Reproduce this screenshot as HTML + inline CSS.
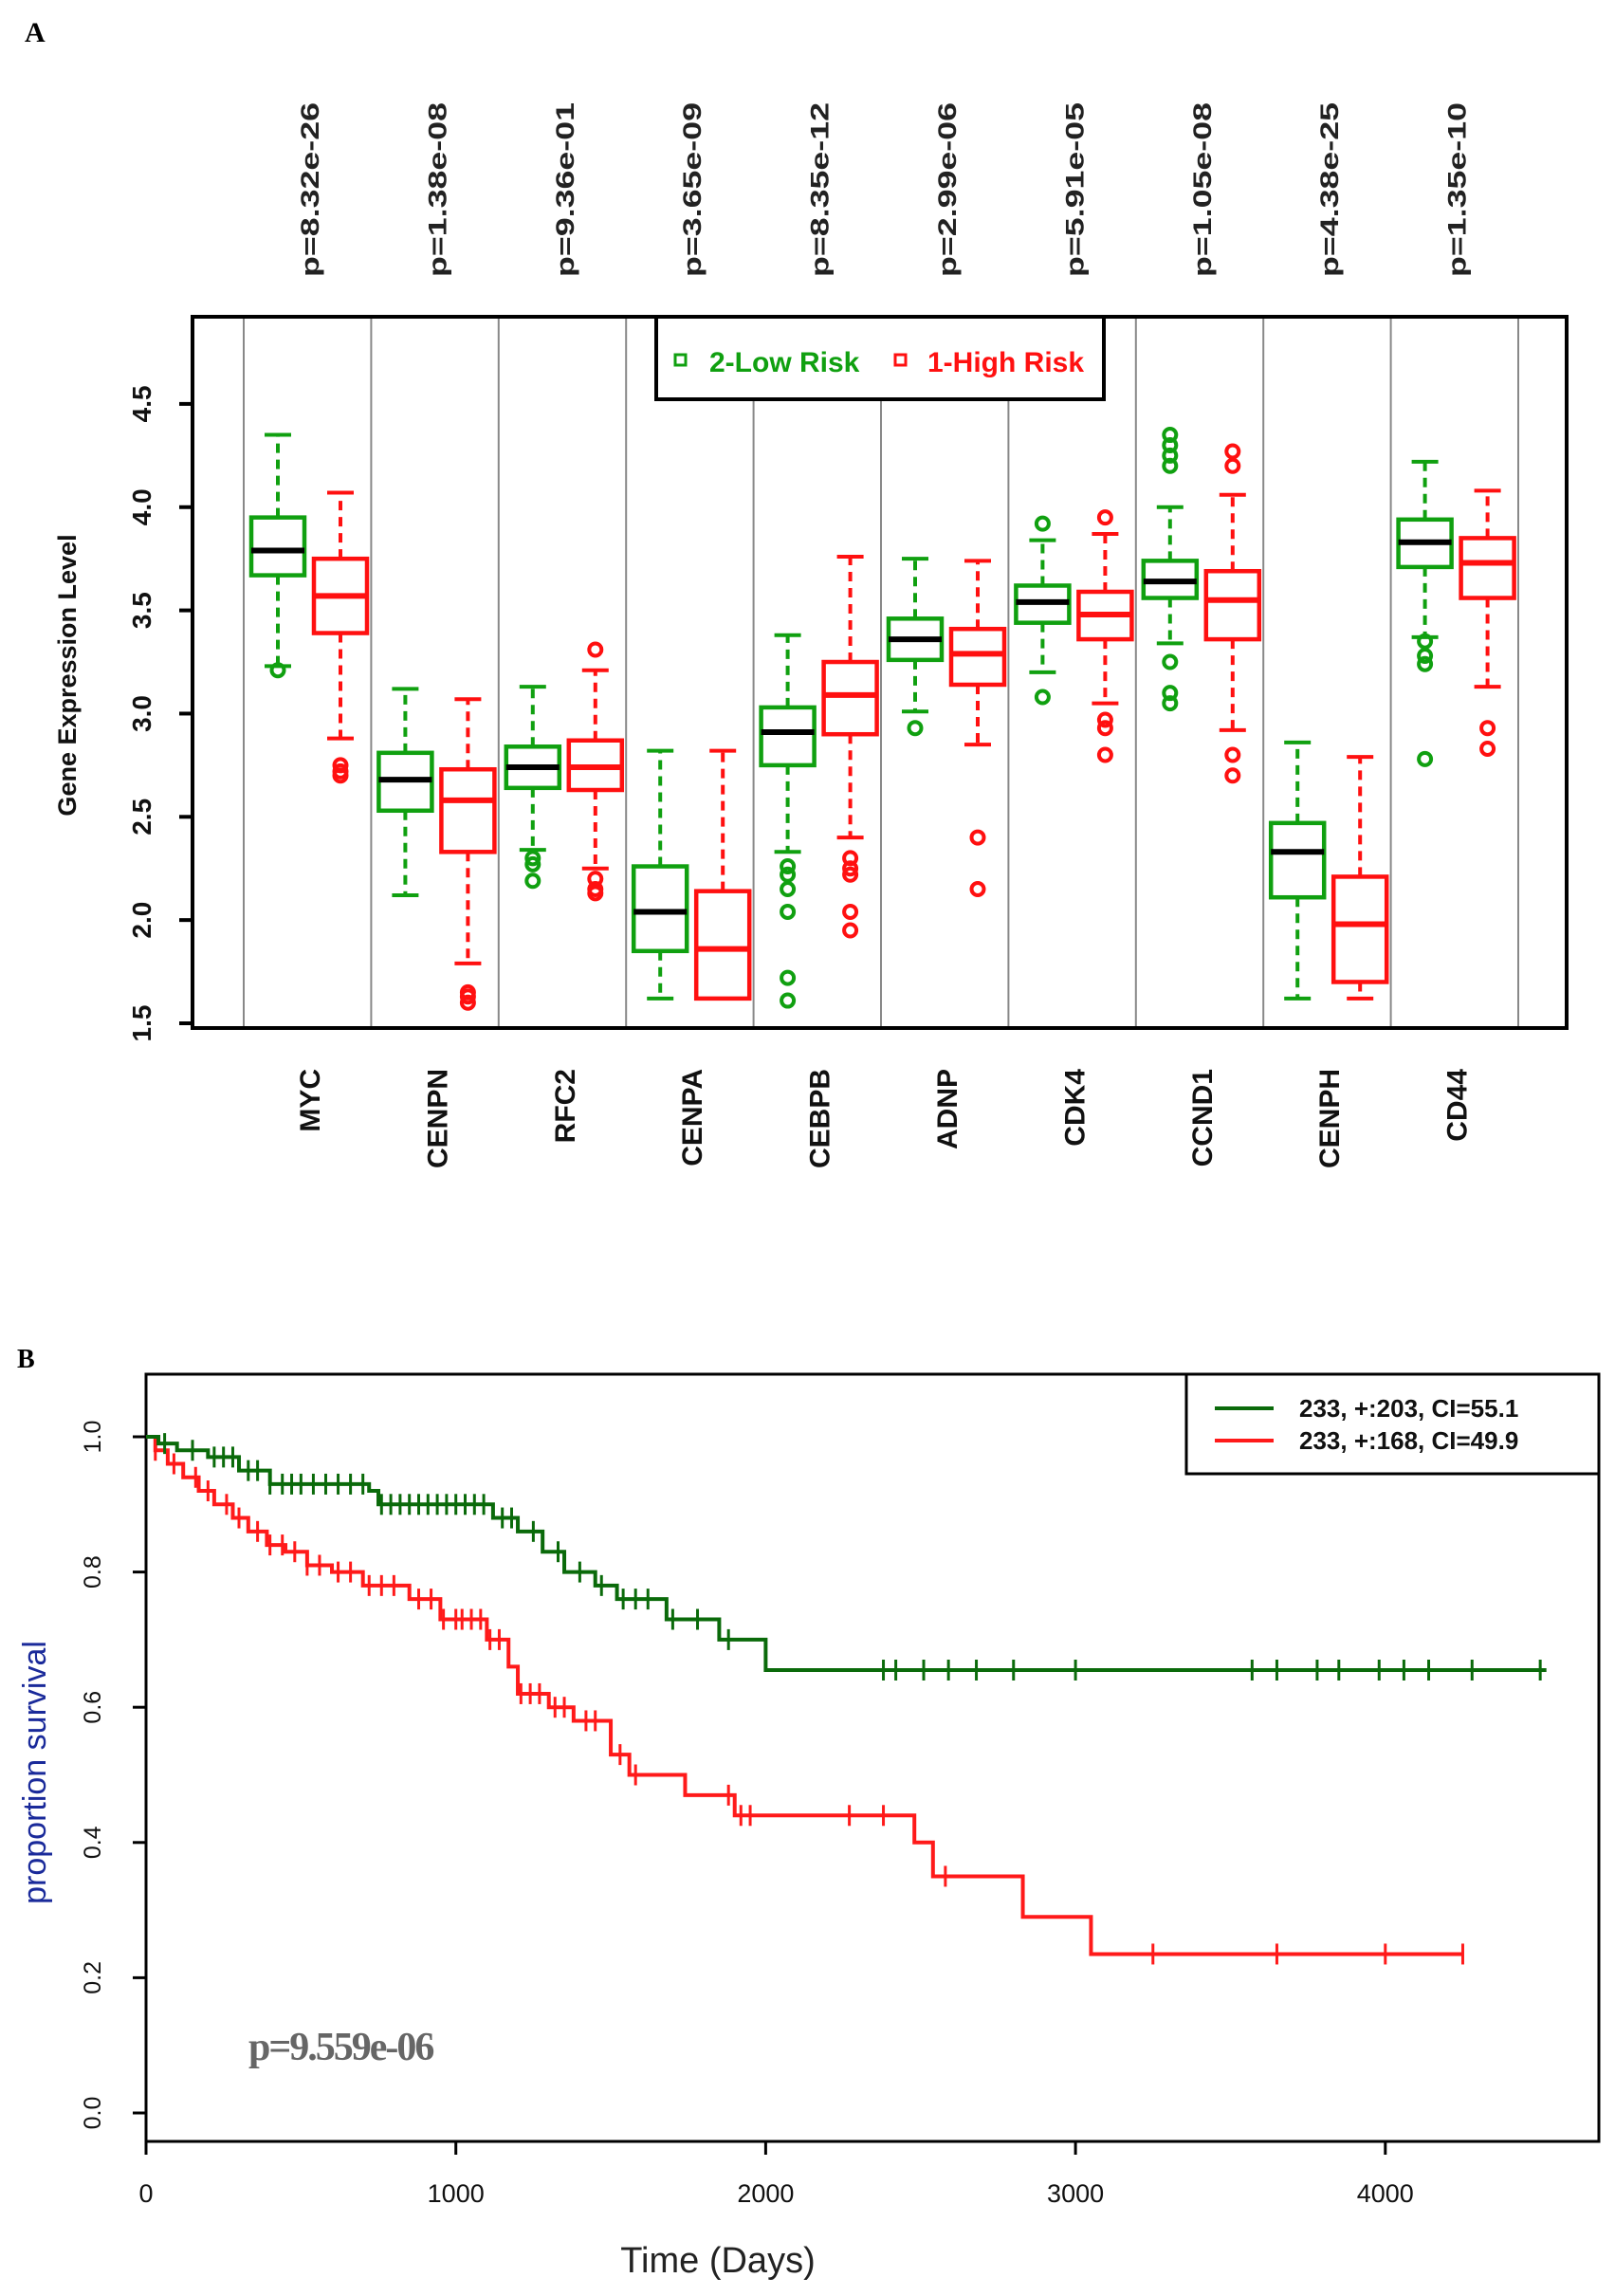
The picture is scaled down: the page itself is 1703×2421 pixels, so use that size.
<!DOCTYPE html>
<html><head><meta charset="utf-8"><style>
body{margin:0;background:#fff}
svg{display:block}
text{font-family:"Liberation Sans",sans-serif}
text.serif{font-family:"Liberation Serif",serif}
</style></head><body>
<svg id="fig" width="1703" height="2421" viewBox="0 0 1703 2421" xmlns="http://www.w3.org/2000/svg">
<g id="panelA"></g>
<g id="panelB"></g>
</svg>
<script>
// ---------- Panel A data ----------
const genes = ["MYC","CENPN","RFC2","CENPA","CEBPB","ADNP","CDK4","CCND1","CENPH","CD44"];
const pvals = ["p=8.32e-26","p=1.38e-08","p=9.36e-01","p=3.65e-09","p=8.35e-12","p=2.99e-06","p=5.91e-05","p=1.05e-08","p=4.38e-25","p=1.35e-10"];
// [min, q1, median, q3, max]
const lowStats = [[3.23,3.67,3.79,3.95,4.35],[2.12,2.53,2.68,2.81,3.12],[2.34,2.64,2.74,2.84,3.13],[1.62,1.85,2.04,2.26,2.82],[2.33,2.75,2.91,3.03,3.38],[3.01,3.26,3.36,3.46,3.75],[3.20,3.44,3.54,3.62,3.84],[3.34,3.56,3.64,3.74,4.00],[1.62,2.11,2.33,2.47,2.86],[3.37,3.71,3.83,3.94,4.22]];
const highStats = [[2.88,3.39,3.57,3.75,4.07],[1.79,2.33,2.58,2.73,3.07],[2.25,2.63,2.74,2.87,3.21],[1.62,1.62,1.86,2.14,2.82],[2.40,2.90,3.09,3.25,3.76],[2.85,3.14,3.29,3.41,3.74],[3.05,3.36,3.48,3.59,3.87],[2.92,3.36,3.55,3.69,4.06],[1.62,1.70,1.98,2.21,2.79],[3.13,3.56,3.73,3.85,4.08]];
const lowOut = [[3.21],[],[2.27,2.30,2.19],[],[2.26,2.22,2.15,2.04,1.72,1.61],[2.93],[3.92,3.08],[4.35,4.30,4.25,4.20,3.25,3.10,3.05],[],[3.35,3.28,3.24,2.78]];
const highOut = [[2.75,2.72,2.70],[1.65,1.63,1.60],[3.31,2.20,2.15,2.13],[],[2.30,2.25,2.22,2.04,1.95],[2.40,2.15],[3.95,2.97,2.93,2.80],[4.27,4.20,2.80,2.70],[],[2.93,2.83]];
const yTicksA = [1.5,2.0,2.5,3.0,3.5,4.0,4.5];

// ---------- Panel B data ----------
const greenT = [0,40,100,200,300,400,720,750,1120,1200,1280,1350,1450,1520,1680,1850,2000,4520];
const greenS = [1.0,0.99,0.98,0.97,0.95,0.93,0.92,0.90,0.88,0.86,0.83,0.80,0.78,0.76,0.73,0.70,0.655,0.655];
const greenCens = [60,150,220,250,280,330,360,400,440,470,500,540,580,620,660,700,760,790,820,850,880,910,940,970,1000,1030,1060,1090,1150,1180,1250,1330,1400,1470,1540,1580,1620,1700,1780,1880,2380,2420,2510,2590,2680,2800,3000,3570,3650,3780,3850,3980,4060,4140,4280,4500];
const redT = [0,30,70,120,170,220,280,330,390,450,520,600,700,850,950,1100,1170,1200,1300,1380,1500,1560,1740,1900,2480,2540,2830,3050,4250];
const redS = [1.0,0.98,0.96,0.94,0.92,0.90,0.88,0.86,0.84,0.83,0.81,0.80,0.78,0.76,0.73,0.70,0.66,0.62,0.60,0.58,0.53,0.50,0.47,0.44,0.40,0.35,0.29,0.235,0.235];
const redCens = [30,90,160,200,260,300,360,400,440,480,520,560,620,660,720,760,800,880,920,960,1000,1020,1050,1080,1110,1140,1210,1240,1270,1320,1350,1420,1450,1530,1580,1880,1920,1950,2270,2380,2580,3250,3650,4000,4250];
const xTicksB = [0,1000,2000,3000,4000];
const yTicksB = [0.0,0.2,0.4,0.6,0.8,1.0];

const NS="http://www.w3.org/2000/svg";
function mk(tag,attrs,parent,txt){const e=document.createElementNS(NS,tag);for(const k in attrs)e.setAttribute(k,attrs[k]);if(txt!==undefined)e.textContent=txt;parent.appendChild(e);return e;}

// ---------- Panel A ----------
const A=document.getElementById('panelA');
const aL=203,aR=1652,aT=334,aB=1084;
const yA=v=>1079-(v-1.5)*217.7;
const groupLeft=i=>257+i*134.4;
let t;
t=mk('text',{x:26,y:44,'font-size':30,'font-weight':'bold',class:'serif'},A,'A');


for(let i=0;i<=10;i++){
  const l=mk('line',{x1:groupLeft(i),x2:groupLeft(i),y1:aT,y2:aB,stroke:'#888','stroke-width':2},A);
  
  
}
function drawBox(cx,s,outs,color,medColor,name){
  const g=mk('g',{},A);
  
  
  const w=56,cw=28;
  mk('line',{x1:cx,x2:cx,y1:yA(s[3]),y2:yA(s[4]),stroke:color,'stroke-width':4,'stroke-dasharray':'10,7'},g);
  mk('line',{x1:cx,x2:cx,y1:yA(s[1]),y2:yA(s[0]),stroke:color,'stroke-width':4,'stroke-dasharray':'10,7'},g);
  mk('line',{x1:cx-cw/2,x2:cx+cw/2,y1:yA(s[4]),y2:yA(s[4]),stroke:color,'stroke-width':4},g);
  mk('line',{x1:cx-cw/2,x2:cx+cw/2,y1:yA(s[0]),y2:yA(s[0]),stroke:color,'stroke-width':4},g);
  mk('rect',{x:cx-w/2,y:yA(s[3]),width:w,height:yA(s[1])-yA(s[3]),fill:'#fff',stroke:color,'stroke-width':4.5},g);
  mk('line',{x1:cx-w/2,x2:cx+w/2,y1:yA(s[2]),y2:yA(s[2]),stroke:medColor,'stroke-width':6},g);
  outs.forEach(o=>mk('circle',{cx:cx,cy:yA(o),r:6.5,fill:'none',stroke:color,'stroke-width':4},g));
}
genes.forEach((gname,i)=>{
  const gl=groupLeft(i);
  drawBox(gl+36,lowStats[i],lowOut[i],'#10a010','#000','box-low-'+gname.toLowerCase());
  drawBox(gl+102,highStats[i],highOut[i],'#ff1010','#ff1010','box-high-'+gname.toLowerCase());
  const cx=gl+69;
  let p=mk('text',{x:0,y:0,transform:`translate(${cx+10},292) rotate(-90)`,'font-size':27,'font-weight':'bold',fill:'#222',textLength:184,lengthAdjust:'spacingAndGlyphs'},A,pvals[i]);
  
  
  let gt=mk('text',{x:0,y:0,transform:`translate(${cx+11},1127) rotate(-90)`,'font-size':30,'font-weight':'bold','text-anchor':'end',fill:'#111'},A,gname);
  
  
});
let fr=mk('rect',{x:aL,y:aT,width:aR-aL,height:aB-aT,fill:'none',stroke:'#000','stroke-width':4},A);


mk('line',{x1:aL,x2:aL,y1:yA(1.5),y2:yA(4.5),stroke:'#000','stroke-width':4},A);
yTicksA.forEach(v=>{
  mk('line',{x1:aL-14,x2:aL,y1:yA(v),y2:yA(v),stroke:'#000','stroke-width':4},A);
  let tt=mk('text',{x:0,y:0,transform:`translate(159,${yA(v)}) rotate(-90)`,'font-size':28,'font-weight':'bold','text-anchor':'middle',fill:'#111'},A,v.toFixed(1));
  
  
});
t=mk('text',{x:0,y:0,transform:'translate(80,712) rotate(-90)','font-size':27,'font-weight':'bold','text-anchor':'middle',fill:'#111'},A,'Gene Expression Level');


const lg=mk('g',{},A);


mk('rect',{x:692,y:334,width:472,height:87,fill:'#fff',stroke:'#000','stroke-width':4},lg);
mk('rect',{x:712,y:374,width:11,height:11,fill:'none',stroke:'#10a010','stroke-width':3},lg);
t=mk('text',{x:748,y:392,'font-size':30,'font-weight':'bold',fill:'#10a010'},lg,'2-Low Risk');


mk('rect',{x:944,y:374,width:11,height:11,fill:'none',stroke:'#ff1010','stroke-width':3},lg);
t=mk('text',{x:978,y:392,'font-size':30,'font-weight':'bold',fill:'#ff1010'},lg,'1-High Risk');



// ---------- Panel B ----------
const B=document.getElementById('panelB');
const bL=154,bR=1686,bT=1449,bB=2258;
const xB=d=>154+d*0.3267;
const yB=s=>2228-s*713;
t=mk('text',{x:18,y:1442,'font-size':28,'font-weight':'bold',class:'serif'},B,'B');


fr=mk('rect',{x:bL,y:bT,width:bR-bL,height:bB-bT,fill:'none',stroke:'#000','stroke-width':3},B);


xTicksB.forEach(v=>{
  mk('line',{x1:xB(v),x2:xB(v),y1:bB,y2:bB+14,stroke:'#000','stroke-width':3},B);
  let tt=mk('text',{x:xB(v),y:2322,'font-size':27,'text-anchor':'middle',fill:'#111'},B,String(v));
  
  
});
yTicksB.forEach(v=>{
  mk('line',{x1:bL-14,x2:bL,y1:yB(v),y2:yB(v),stroke:'#000','stroke-width':3},B);
  let tt=mk('text',{x:0,y:0,transform:`translate(106,${yB(v)}) rotate(-90)`,'font-size':25,'text-anchor':'middle',fill:'#111'},B,v.toFixed(1));
  
  
});
function stepPath(T,S){let d=`M${xB(T[0])},${yB(S[0])}`;for(let i=1;i<T.length;i++){d+=` H${xB(T[i])} V${yB(S[i])}`;}return d;}
function survAt(T,S,x){let s=S[0];for(let i=0;i<T.length;i++){if(T[i]<=x)s=S[i];}return s;}
function drawCurve(T,S,C,color,name){
  const g=mk('g',{},B);
  
  
  mk('path',{d:stepPath(T,S),fill:'none',stroke:color,'stroke-width':4},g);
  C.forEach(c=>{const y=yB(survAt(T,S,c));mk('line',{x1:xB(c),x2:xB(c),y1:y-11,y2:y+11,stroke:color,'stroke-width':3},g);});
}
drawCurve(redT,redS,redCens,'#ff1a1a','survival-curve-high-risk');
drawCurve(greenT,greenS,greenCens,'#0a6a0a','survival-curve-low-risk');
const lb=mk('g',{},B);


mk('rect',{x:1251,y:1449,width:435,height:105,fill:'#fff',stroke:'#000','stroke-width':3},lb);
mk('line',{x1:1281,x2:1343,y1:1485,y2:1485,stroke:'#0a6a0a','stroke-width':4},lb);
mk('line',{x1:1281,x2:1343,y1:1519,y2:1519,stroke:'#ff1a1a','stroke-width':4},lb);
t=mk('text',{x:1370,y:1494,'font-size':26,'font-weight':'bold',fill:'#111'},lb,'233, +:203, CI=55.1');


t=mk('text',{x:1370,y:1528,'font-size':26,'font-weight':'bold',fill:'#111'},lb,'233, +:168, CI=49.9');


t=mk('text',{x:262,y:2172,'font-size':42,'font-weight':'bold',class:'serif',fill:'#666','letter-spacing':-2},B,'p=9.559e-06');


t=mk('text',{x:0,y:0,transform:'translate(48,1869) rotate(-90)','font-size':34,'text-anchor':'middle',fill:'#1a2a9a'},B,'proportion survival');


t=mk('text',{x:757,y:2396,'font-size':38,'text-anchor':'middle',fill:'#222'},B,'Time (Days)');


</script>
</body></html>
